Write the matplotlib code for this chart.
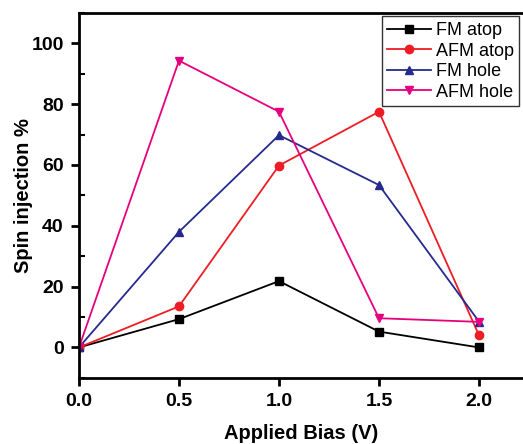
import matplotlib
matplotlib.use("Agg")
import matplotlib.pyplot as plt
from matplotlib.ticker import MultipleLocator

plt.rcParams['font.family'] = ['Liberation Sans', 'DejaVu Sans']
plt.rcParams['font.weight'] = 'bold'

bias = [0.0, 0.5, 1.0, 1.5, 2.0]
fm_atop = [0, 9.3, 21.8, 5.2, 0]
afm_atop = [0, 13.5, 59.8, 77.5, 4.0]
fm_hole = [0, 38.0, 69.8, 53.4, 8.5]
afm_hole = [0, 94.3, 77.5, 9.6, 8.4]

series = [
    ("FM atop", fm_atop, "black", "s"),
    ("AFM atop", afm_atop, "#ee1c24", "o"),
    ("FM hole", fm_hole, "#262a8f", "^"),
    ("AFM hole", afm_hole, "#e6007e", "v"),
]

fig = plt.figure(figsize=(5.23, 4.44), dpi=100)
ax = fig.add_axes([0.151, 0.149, 0.849, 0.822])

for name, vals, color, marker in series:
    ax.plot(bias, vals, color=color, marker=marker, markersize=6, linewidth=1.3, label=name)

ax.set_xlim(0, 2.22)
ax.set_ylim(-10, 110)
ax.xaxis.set_major_locator(MultipleLocator(0.5))
ax.yaxis.set_major_locator(MultipleLocator(20))
ax.yaxis.set_minor_locator(MultipleLocator(10))
ax.xaxis.set_major_formatter(plt.FormatStrFormatter('%.1f'))

for sp in ax.spines.values():
    sp.set_linewidth(2)
ax.spines['right'].set_visible(False)
ax.tick_params(which='major', direction='out', length=6, width=2, labelsize=14, pad=5)
ax.tick_params(which='minor', direction='in', length=4, width=1.5)

ax.set_xlabel("Applied Bias (V)", fontsize=14.5, fontweight='bold', labelpad=10)
ax.set_ylabel("Spin injection %", fontsize=14.5, fontweight='bold', labelpad=-1)

leg = ax.legend(loc='upper right', fontsize=13, frameon=True, fancybox=False,
                edgecolor='black', borderaxespad=0.2, handlelength=2.4,
                labelspacing=0.2, borderpad=0.3, handletextpad=0.3)
leg.get_frame().set_linewidth(1)
for t in leg.get_texts():
    t.set_fontweight('normal')

fig.savefig("out.png", dpi=100)
